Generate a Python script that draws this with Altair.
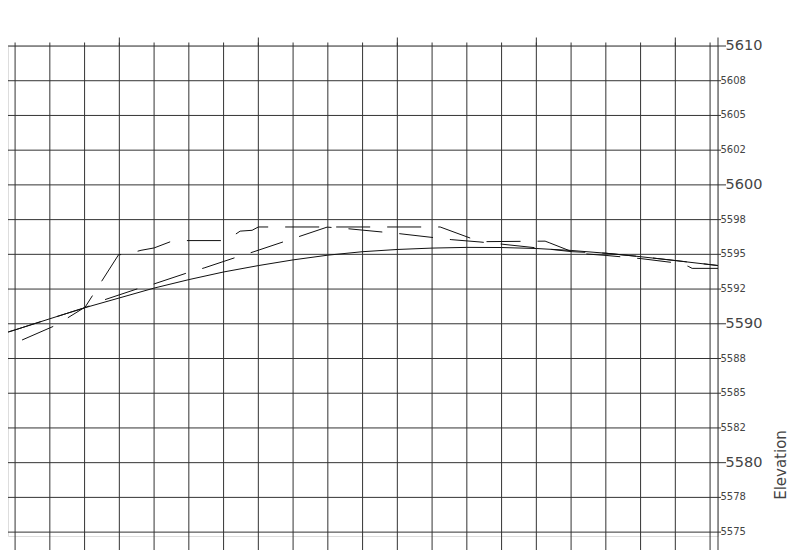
import altair as alt
import pandas as pd

# ---- data (station in ft, elevation in ft) ----
grid_sta = list(range(925, 1426, 25))
major_sta = [1000, 1100, 1200, 1300, 1400]

tick_elev = [5575, 5577.5, 5580, 5582.5, 5585, 5587.5, 5590, 5592.5, 5595,
             5597.5, 5600, 5602.5, 5605, 5607.5, 5610]
tick_text = ["5575", "5578", "5580", "5582", "5585", "5588", "5590", "5592",
             "5595", "5598", "5600", "5602", "5605", "5608", "5610"]
major_elev = [5580, 5590, 5600, 5610]

# proposed profile (solid)
prof_sta = [914, 925, 950, 975, 1000, 1025, 1050, 1075, 1100, 1125, 1150, 1175,
            1200, 1225, 1250, 1275, 1300, 1325, 1350, 1375, 1400, 1431]
prof_elev = [5589.22, 5589.56, 5590.36, 5591.15, 5591.86, 5592.57, 5593.18,
             5593.73, 5594.19, 5594.60, 5594.94, 5595.19, 5595.35, 5595.45,
             5595.50, 5595.49, 5595.42, 5595.28, 5595.08, 5594.83, 5594.55,
             5594.19]

# existing ground A (upper dashed)
eg1_sta = [914.2, 953.8, 975.4, 999.5, 1004.1, 1015.6, 1025.0, 1038.9, 1076.8,
           1086.9, 1095.5, 1100.0, 1230.8, 1259.5, 1306.3, 1309.2, 1325.7,
           1332.9, 1350.2, 1375.4, 1400.5, 1409.2, 1412.1, 1431.0]
eg1_elev = [5588.14, 5589.87, 5591.20, 5594.98, 5594.98, 5595.29, 5595.46,
            5595.99, 5595.99, 5596.67, 5596.73, 5596.97, 5596.97, 5595.91,
            5595.95, 5595.84, 5595.19, 5595.05, 5594.92, 5594.69, 5594.38,
            5594.14, 5593.99, 5593.99]

# existing ground B (lower dashed)
eg2_sta = [914, 925, 950, 975, 989.7, 1012.8, 1025.0, 1048.7, 1061.0, 1084.7,
           1096.2, 1120.7, 1149.5, 1163.8, 1201.3, 1238.7, 1259.5, 1275.4,
           1312.1, 1325.7, 1350.2, 1375.4, 1400.5, 1431]
eg2_elev = [5589.22, 5589.56, 5590.36, 5591.15, 5591.74, 5592.51, 5592.87,
            5593.66, 5594.02, 5594.81, 5595.17, 5595.99, 5596.96, 5596.85,
            5596.49, 5596.06, 5595.89, 5595.73, 5595.34, 5595.19, 5595.08,
            5594.83, 5594.55, 5594.19]

axis_title = "Elevation"

# ---- chart ----
W, H = 710, 490
EXT = 14  # grid lines run past the plot bottom to the page edge
GRID = "#333333"
LINE = "#111111"
TXT = "#444444"
FONT = "DejaVu Sans"

xs = alt.Scale(domain=[919.9, 1430.7], zero=False, nice=False)
ys = alt.Scale(domain=[5574.72, 5610], zero=False, nice=False)


def X():
    return alt.X("station:Q", scale=xs, axis=None)


def Y():
    return alt.Y("elev:Q", scale=ys, axis=None)


one = pd.DataFrame({"k": [0]})

vgrid = alt.Chart(pd.DataFrame({"station": grid_sta})).mark_rule(
    color=GRID, strokeWidth=1
).encode(x=X(), y=alt.value(-3.5), y2=alt.value(H + EXT))

vmajor = alt.Chart(pd.DataFrame({"station": major_sta})).mark_rule(
    color=GRID, strokeWidth=1
).encode(x=X(), y=alt.value(-8.5), y2=alt.value(0))

ticks_df = pd.DataFrame({"elev": tick_elev, "label": tick_text})
ticks_df["major"] = ticks_df["elev"].isin(major_elev)
minor_df = ticks_df[~ticks_df["major"]]
major_df = ticks_df[ticks_df["major"]]

hgrid_minor = alt.Chart(minor_df).mark_rule(color=GRID, strokeWidth=1).encode(
    y=Y(), x=alt.value(0), x2=alt.value(W + 3))
hgrid_major = alt.Chart(major_df).mark_rule(color=GRID, strokeWidth=1).encode(
    y=Y(), x=alt.value(0), x2=alt.value(W + 8))

frame = alt.Chart(one).mark_rule(color=GRID, strokeWidth=1).encode(
    x=alt.value(W), y=alt.value(-8.5), y2=alt.value(H + EXT))

lab_minor = alt.Chart(minor_df).mark_text(
    align="left", baseline="middle", fontSize=10, font=FONT, color=TXT
).encode(x=alt.value(W + 2.5), y=Y(), text="label:N")
lab_major = alt.Chart(major_df).mark_text(
    align="left", baseline="middle", fontSize=14.5, font=FONT, color=TXT
).encode(x=alt.value(W + 7.5), y=Y(), text="label:N")

title = alt.Chart(pd.DataFrame({"t": [axis_title]})).mark_text(
    angle=270, align="center", baseline="middle", fontSize=15, font=FONT, color=TXT
).encode(x=alt.value(772.5), y=alt.value(419), text="t:N")

prof = alt.Chart(pd.DataFrame({"station": prof_sta, "elev": prof_elev})).mark_line(
    color=LINE, strokeWidth=1, clip=True
).encode(x=X(), y=Y())

eg1 = alt.Chart(pd.DataFrame({"station": eg1_sta, "elev": eg1_elev})).mark_line(
    color=LINE, strokeWidth=1, strokeDash=[34, 17], strokeDashOffset=27, clip=True
).encode(x=X(), y=Y())

eg2 = alt.Chart(pd.DataFrame({"station": eg2_sta, "elev": eg2_elev})).mark_line(
    color=LINE, strokeWidth=1, strokeDash=[34, 17], strokeDashOffset=42, clip=True
).encode(x=X(), y=Y())

chart = alt.layer(
    vgrid, vmajor, hgrid_minor, hgrid_major, frame,
    prof, eg1, eg2, lab_minor, lab_major, title
).properties(
    width=W, height=H,
    autosize="none",
    padding={"left": 0, "top": 38, "right": 74, "bottom": EXT},
).configure_view(stroke=None).configure(background="white")

chart.save("out.html", embed_options={"renderer": "svg", "actions": False})
